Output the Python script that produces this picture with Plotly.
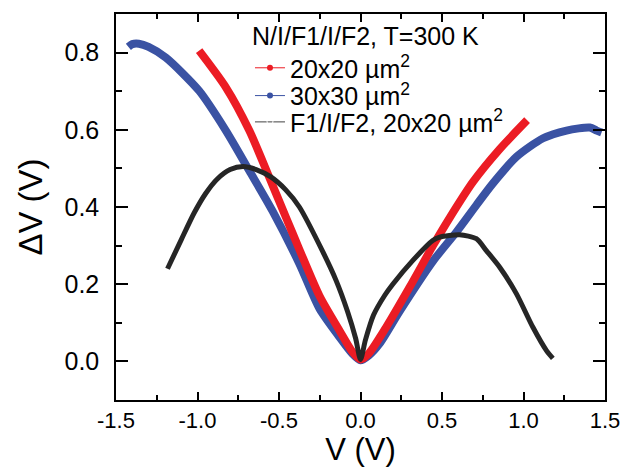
import plotly.graph_objects as go

# 30x30 um^2 (blue)
blue_x = [-1.424, -1.40, -1.36, -1.30, -1.194, -0.99, -0.826, -0.682, -0.54, -0.375, -0.252, -0.129, -0.05, 0.0,
          0.05, 0.117, 0.24, 0.445, 0.588, 0.711, 0.81, 0.957, 1.12, 1.264, 1.407, 1.449, 1.479]
blue_y = [0.815, 0.822, 0.823, 0.815, 0.787, 0.701, 0.598, 0.494, 0.39, 0.253, 0.137, 0.063, 0.02, 0.003,
          0.015, 0.046, 0.13, 0.26, 0.335, 0.405, 0.46, 0.53, 0.578, 0.598, 0.606, 0.598, 0.593]

# 20x20 um^2 (red)
red_x = [-0.99, -0.826, -0.682, -0.56, -0.457, -0.375, -0.252, -0.129, -0.05, 0.0,
         0.05, 0.158, 0.301, 0.445, 0.547, 0.69, 0.854, 1.022]
red_y = [0.805, 0.71, 0.598, 0.477, 0.373, 0.29, 0.17, 0.08, 0.025, 0.005,
         0.02, 0.089, 0.192, 0.30, 0.372, 0.465, 0.55, 0.625]

# F1/I/F2, 20x20 um^2 (black)
blk_x = [-1.184, -1.10, -1.02, -0.95, -0.88, -0.80, -0.72, -0.64, -0.55, -0.46, -0.375, -0.23, -0.15, -0.08,
         -0.03, 0.0, 0.03, 0.08, 0.15, 0.198, 0.32, 0.443, 0.486, 0.608, 0.711, 0.772, 0.854, 0.957, 1.057,
         1.141, 1.18]
blk_y = [0.240, 0.315, 0.385, 0.435, 0.472, 0.497, 0.505, 0.497, 0.478, 0.445, 0.40, 0.283, 0.21, 0.13,
         0.06, 0.005, 0.055, 0.12, 0.172, 0.20, 0.261, 0.313, 0.322, 0.328, 0.318, 0.287, 0.244, 0.175, 0.089,
         0.028, 0.008]

x_ticks = [-1.5, -1.0, -0.5, 0.0, 0.5, 1.0, 1.5]
x_ticktext = ["-1.5", "-1.0", "-0.5", "0.0", "0.5", "1.0", "1.5"]
y_ticks = [0.0, 0.2, 0.4, 0.6, 0.8]
y_ticktext = ["0.0", "0.2", "0.4", "0.6", "0.8"]

legend_title = "N/I/F1/I/F2, T=300 K"
names = ["20x20 µm<sup>2</sup>", "30x30 µm<sup>2</sup>", "F1/I/F2, 20x20 µm<sup>2</sup>"]

RED = "#ec1c24"
BLUE = "#3a52a3"
BLK = "#262626"
FONT = "Liberation Sans, Arial, sans-serif"

fig = go.Figure()
fig.add_trace(go.Scatter(x=blue_x, y=blue_y, mode="lines",
                         line=dict(color=BLUE, width=8, shape="spline", smoothing=0.7), showlegend=False))
fig.add_trace(go.Scatter(x=red_x, y=red_y, mode="lines",
                         line=dict(color=RED, width=8, shape="spline", smoothing=0.7), showlegend=False))
fig.add_trace(go.Scatter(x=blk_x, y=blk_y, mode="lines",
                         line=dict(color=BLK, width=5, shape="spline", smoothing=0.7), showlegend=False))

# legend entries (each in its own legend box for exact spacing)
fig.add_trace(go.Scatter(x=[None], y=[None], mode="lines+markers", name=names[0], legend="legend",
                         line=dict(color=RED, width=1), marker=dict(color=RED, size=6)))
fig.add_trace(go.Scatter(x=[None], y=[None], mode="lines+markers", name=names[1], legend="legend2",
                         line=dict(color=BLUE, width=1), marker=dict(color=BLUE, size=6)))
fig.add_trace(go.Scatter(x=[None], y=[None], mode="lines+markers", name=names[2], legend="legend3",
                         line=dict(color="#808080", width=1.5),
                         marker=dict(color="white", size=6, symbol="circle-open", line=dict(color="#555", width=1))))

axis_common = dict(showline=True, linecolor="black", linewidth=1.5, mirror="ticks", ticks="inside",
                   tickcolor="black", tickwidth=1.5, showgrid=False, zeroline=False, automargin=False)

leg_common = dict(xanchor="left", yanchor="middle", bgcolor="rgba(0,0,0,0)", font=dict(size=25),
                  itemwidth=30)

fig.update_layout(
    width=622, height=467,
    margin=dict(l=116, r=17, t=14, b=67),
    paper_bgcolor="white", plot_bgcolor="white",
    font=dict(family=FONT, color="black"),
    xaxis=dict(range=[-1.5, 1.5], tickvals=x_ticks, ticktext=x_ticktext, ticklen=8,
               tickfont=dict(size=22, color="black"),
               title=dict(text="V (V)", font=dict(size=31), standoff=2),
               minor=dict(dtick=0.25, ticklen=5, ticks="inside", tickcolor="black", tickwidth=1.5),
               **axis_common),
    yaxis=dict(range=[-0.1, 0.9], tickvals=y_ticks, ticktext=y_ticktext, ticklen=12,
               ticklabelstandoff=10, tickfont=dict(size=25, color="black"),
               title=dict(text="ΔV (V)", font=dict(size=33), standoff=12),
               minor=dict(dtick=0.1, ticklen=6, ticks="inside", tickcolor="black", tickwidth=1.5),
               **axis_common),
    legend=dict(x=0.274, y=0.860, **leg_common),
    legend2=dict(x=0.274, y=0.788, **leg_common),
    legend3=dict(x=0.274, y=0.720, **leg_common),
    annotations=[dict(text=legend_title, x=0.274, y=0.942, xref="paper", yref="paper",
                      xanchor="left", yanchor="middle", showarrow=False, font=dict(size=25))],
)

# remove the default 8px body margin so the 622x467 figure fills the window exactly
fig.write_html("out.html", config={"displayModeBar": False},
               post_script="document.body.style.margin='0';")
